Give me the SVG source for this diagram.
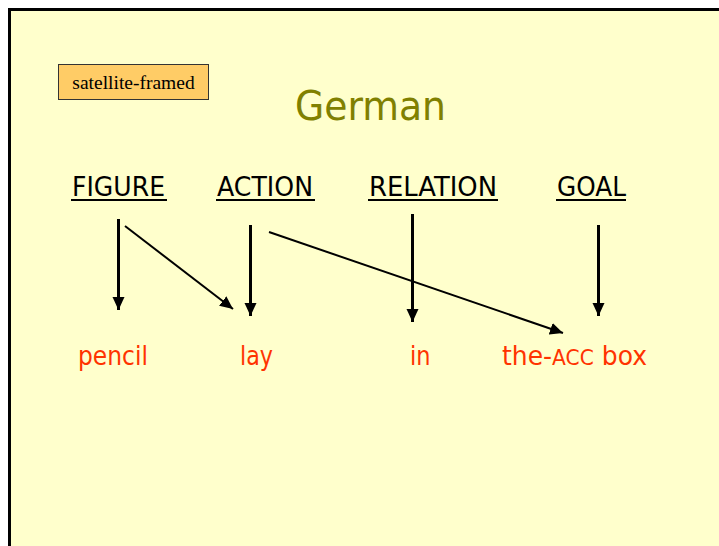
<svg xmlns="http://www.w3.org/2000/svg" width="719" height="546" viewBox="0 0 719 546">
<style>
.lbl{font-family:"DejaVu Sans",Verdana,sans-serif;font-size:26px;fill:#000}
.word{font-family:"DejaVu Sans",Verdana,sans-serif;font-size:26px;fill:#FF3300}
.ul{stroke:#000;stroke-width:2}
.v{stroke:#000;stroke-width:3;fill:none}
.d{stroke:#000;stroke-width:2;fill:none}
</style>
<defs>
<marker id="ah" markerUnits="userSpaceOnUse" markerWidth="13" markerHeight="13" viewBox="0 0 13 13" refX="13" refY="6.5" orient="auto">
<path d="M0,0.5 L13,6.5 L0,12.5 Z" fill="#000"/>
</marker>
</defs>
<rect x="0" y="0" width="719" height="546" fill="#fff"/>
<rect x="9.5" y="9.5" width="720" height="550" fill="#FFFFCC" stroke="#000" stroke-width="3"/>

<g id="tag">
<rect x="58.5" y="64.5" width="150" height="35" fill="#FFCC66" stroke="#333" stroke-width="1"/>
<text x="133.5" y="89" text-anchor="middle" font-family="'Liberation Serif','Times New Roman',serif" font-size="19.5" fill="#000">satellite-framed</text>
</g>

<g id="title">
<text x="295" y="120" font-family="'DejaVu Sans',Verdana,sans-serif" font-size="41" fill="#808000" textLength="151" lengthAdjust="spacingAndGlyphs">German</text>
</g>

<g id="figure">
<text class="lbl" x="72" y="196" textLength="93" lengthAdjust="spacingAndGlyphs">FIGURE</text>
<line class="ul" x1="71" y1="200" x2="167" y2="200"/>
</g>
<g id="action">
<text class="lbl" x="217" y="196" textLength="96" lengthAdjust="spacingAndGlyphs">ACTION</text>
<line class="ul" x1="216" y1="200" x2="315" y2="200"/>
</g>
<g id="relation">
<text class="lbl" x="369" y="196" textLength="128" lengthAdjust="spacingAndGlyphs">RELATION</text>
<line class="ul" x1="368" y1="200" x2="498" y2="200"/>
</g>
<g id="goal">
<text class="lbl" x="557" y="196" textLength="69" lengthAdjust="spacingAndGlyphs">GOAL</text>
<line class="ul" x1="556" y1="200" x2="626" y2="200"/>
</g>

<g id="pencil"><text class="word" x="78" y="365" textLength="70" lengthAdjust="spacingAndGlyphs">pencil</text></g>
<g id="lay"><text class="word" x="240" y="365" textLength="33" lengthAdjust="spacingAndGlyphs">lay</text></g>
<g id="in"><text class="word" x="410" y="365" textLength="20.5" lengthAdjust="spacingAndGlyphs">in</text></g>
<g id="the-acc-box"><text class="word" x="502" y="365" textLength="145" lengthAdjust="spacingAndGlyphs">the-<tspan font-size="21">ACC</tspan> box</text></g>

<g id="connectors">
<line class="v" x1="118.5" y1="219" x2="118.5" y2="310" marker-end="url(#ah)"/>
<line class="d" x1="125" y1="226" x2="233" y2="309" marker-end="url(#ah)"/>
<line class="v" x1="250.5" y1="225" x2="250.5" y2="316" marker-end="url(#ah)"/>
<line class="d" x1="269" y1="232" x2="563" y2="333" marker-end="url(#ah)"/>
<line class="v" x1="412.5" y1="214" x2="412.5" y2="322" marker-end="url(#ah)"/>
<line class="v" x1="598.5" y1="225" x2="598.5" y2="316" marker-end="url(#ah)"/>
</g>
</svg>
